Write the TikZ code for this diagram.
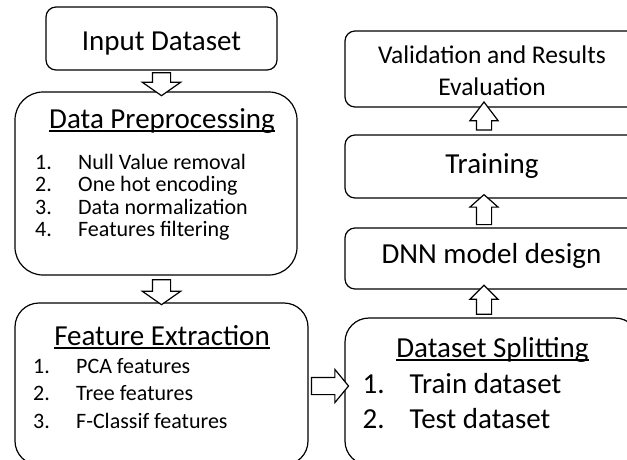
\documentclass[tikz,border=0pt]{standalone}
\usepackage{fontspec}
\setmainfont{Carlito}
\usetikzlibrary{shapes.arrows}

\newsavebox{\ulbox}
\newcommand{\ulin}[1]{\sbox{\ulbox}{#1}\rlap{\rule[-3.5pt]{\wd\ulbox}{1.3pt}}\usebox{\ulbox}}

\tikzset{
  box/.style={draw, line width=1.2pt, rounded corners=10pt, inner sep=0pt},
  bigbox/.style={box, rounded corners=26pt},
  lbl/.style={inner sep=0pt, font=\fontsize{29}{35}\selectfont},
  hollow/.style={single arrow, draw, fill=white, line width=1.2pt, inner sep=0pt,
    single arrow head indent=0pt, sloped, allow upside down, midway},
}

\begin{document}
\begin{tikzpicture}[x=1pt,y=-1pt]
    \useasboundingbox (0,0) rectangle (627,459);
    \clip (0,0) rectangle (627,459);
    % left column
    \node[box, minimum width=231, minimum height=63] (input) at (161.5,38.5) {};
    \node[lbl, anchor=base] (inputlbl) at (161.5,50) {Input Dataset};
    \node[bigbox, rounded corners=28pt, minimum width=282, minimum height=183] (prep) at (156,183.5) {};
    \node[lbl, anchor=base] (preplbl) at (162,128) {\ulin{Data Preprocessing}};
    \node[lbl, font=\fontsize{22}{22.5}\selectfont, anchor=base west] (preplist) at (35,169) {%
      \begin{tabular}[t]{@{}p{43pt}@{}l@{}}
        1. & Null Value removal\\
        2. & One hot encoding\\
        3. & Data normalization\\
        4. & Features filtering
      \end{tabular}};
    \node[bigbox, rounded corners=24pt, minimum width=293, minimum height=162] (feat) at (161.5,384) {};
    \node[lbl, anchor=base] (featlbl) at (162,345) {\ulin{Feature Extraction}};
    \node[lbl, font=\fontsize{22}{27.5}\selectfont, anchor=base west] (featlist) at (33,373) {%
      \begin{tabular}[t]{@{}p{43pt}@{}l@{}}
        1. & PCA features\\
        2. & Tree features\\
        3. & F-Classif features
      \end{tabular}};
    % right column
    \node[box, rounded corners=24pt, minimum width=294, minimum height=147] (split) at (492,391.5) {};
    \node[lbl, anchor=base] (splitlbl) at (492.5,357) {\ulin{Dataset Splitting}};
    \node[lbl, anchor=base west] (splitlist) at (362.5,393) {%
      \begin{tabular}[t]{@{}p{47pt}@{}l@{}}
        1. & Train dataset\\
        2. & Test dataset
      \end{tabular}};
    \node[box, minimum width=294, minimum height=61] (dnn) at (492,258.5) {};
    \node[lbl, anchor=base] (dnnlbl) at (491.5,263.3) {DNN model design};
    \node[box, minimum width=294, minimum height=63] (train) at (492,166.5) {};
    \node[lbl, anchor=base] (trainlbl) at (492,173.3) {Training};
    \node[box, minimum width=294, minimum height=76] (valid) at (492,69) {};
    \node[lbl, font=\fontsize{25.5}{31.7}\selectfont, anchor=base] (validlbl) at (492,63.3) {%
      \begin{tabular}[t]{@{}c@{}}Validation and Results\\Evaluation\end{tabular}};
    % hollow arrows
    \path (input.south) -- node[hollow, minimum height=23, inner ysep=8.5,
      single arrow head extend=10, single arrow tip angle=110] (a1) {} (input.south |- prep.north);
    \path (prep.south -| input.south) -- node[hollow, minimum height=25, inner ysep=8.5,
      single arrow head extend=10, single arrow tip angle=110] (a2) {} (input.south |- feat.north);
    \path ([yshift=-2pt]feat.east) -- node[hollow, minimum height=37, inner ysep=8,
      single arrow head extend=8, single arrow tip angle=101] (a3) {} ([yshift=-2pt]feat.east -| split.west);
    \path ([xshift=-8pt]split.north) -- node[hollow, minimum height=29, inner ysep=7,
      single arrow head extend=6.5, single arrow tip angle=90] (a4) {} ([xshift=-8pt]dnn.south);
    \path ([xshift=-8pt]dnn.north) -- node[hollow, minimum height=30, inner ysep=7,
      single arrow head extend=6.5, single arrow tip angle=97] (a5) {} ([xshift=-8pt]train.south);
    \path ([xshift=-8pt]train.north) -- node[hollow, minimum height=28, inner ysep=7,
      single arrow head extend=6.5, single arrow tip angle=74] (a6) {} ([xshift=-8pt]valid.south);
\end{tikzpicture}
\end{document}
